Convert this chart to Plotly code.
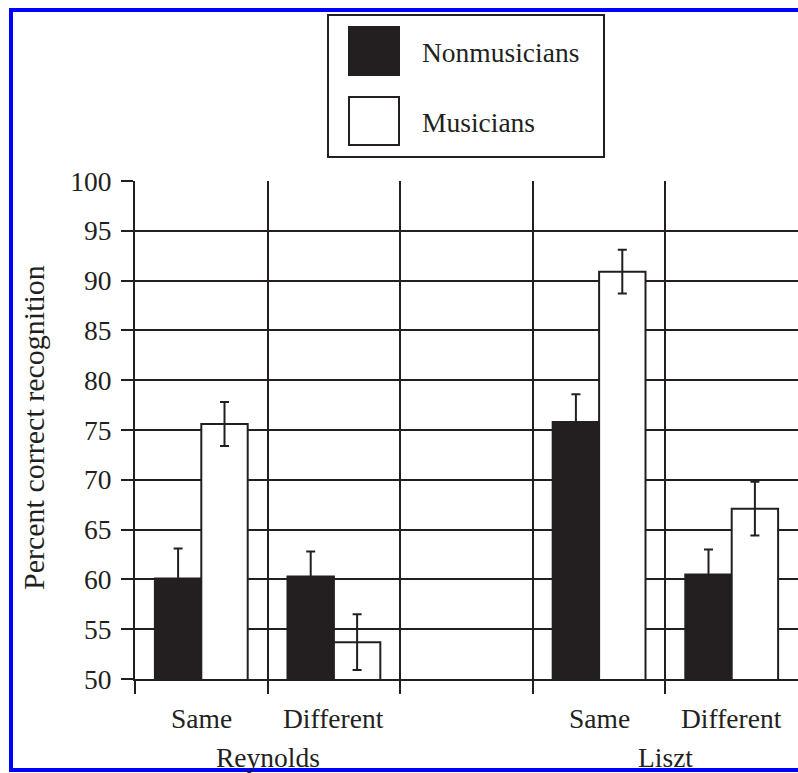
import plotly.graph_objects as go

# data
pieces = ["Reynolds", "Reynolds", "Liszt", "Liszt"]
conditions = ["Same", "Different", "Same", "Different"]
slots = [0, 1, 3, 4]  # slot 2 is the empty gap between the two pieces
nonmusicians = [60.1, 60.3, 75.8, 60.5]
nonmusicians_err = [3.0, 2.5, 2.8, 2.5]
musicians = [75.6, 53.7, 90.9, 67.1]
musicians_err = [2.2, 2.8, 2.2, 2.7]
series_names = ["Nonmusicians", "Musicians"]
y_ticks = [50, 55, 60, 65, 70, 75, 80, 85, 90, 95, 100]

INK = "#231f20"
FONT = "Liberation Serif"
FS = 27.5

W_FIG, H_FIG = 798, 773
L, R, T, B = 135, 0, 181, 94
PW, PH = W_FIG - L - R, H_FIG - T - B


def px(xp):
    return (xp - L) / PW


def py(yp):
    return (T + PH - yp) / PH


fig = go.Figure()
fig.add_trace(go.Bar(
    x=slots, y=nonmusicians, name=series_names[0],
    marker=dict(color=INK, line=dict(color=INK, width=2)),
    error_y=dict(type="data", array=nonmusicians_err, color=INK, thickness=2, width=4.5),
    showlegend=False,
))
fig.add_trace(go.Bar(
    x=slots, y=musicians, name=series_names[1],
    marker=dict(color="white", line=dict(color=INK, width=2)),
    error_y=dict(type="data", array=musicians_err, color=INK, thickness=2, width=4.5),
    showlegend=False,
))

txt = dict(family=FONT, size=FS, color=INK)

# condition labels under each slot, piece labels under each pair
for s, c in zip(slots, conditions):
    fig.add_annotation(x=s, y=py(718), xref="x", yref="paper", text=c, showarrow=False,
                       yanchor="middle", font=txt)
for p in dict.fromkeys(pieces):
    xs = [s for s, pp in zip(slots, pieces) if pp == p]
    fig.add_annotation(x=sum(xs) / len(xs), y=py(757), xref="x", yref="paper", text=p,
                       showarrow=False, yanchor="middle", font=txt)

# y axis title placed by hand (it sits further left than plotly's standoff allows)
fig.add_annotation(x=px(33), y=py(428), xref="paper", yref="paper", text="Percent correct recognition",
                   textangle=-90, showarrow=False, xanchor="center", yanchor="middle",
                   font=dict(family=FONT, size=30, color=INK))

# hand-drawn legend box like the original
shapes = [
    dict(type="rect", xref="paper", yref="paper", x0=px(328), x1=px(604), y0=py(157), y1=py(15),
         line=dict(color=INK, width=2), fillcolor="white"),
    dict(type="rect", xref="paper", yref="paper", x0=px(349), x1=px(399), y0=py(75), y1=py(27),
         line=dict(color=INK, width=2), fillcolor=INK),
    dict(type="rect", xref="paper", yref="paper", x0=px(349), x1=px(399), y0=py(145), y1=py(97),
         line=dict(color=INK, width=2), fillcolor="white"),
    # blue frame around the figure (open on the right, like the cropped original)
    dict(type="path", xref="paper", yref="paper",
         path=f"M {px(830)} {py(10)} L {px(11)} {py(10)} L {px(11)} {py(770)} L {px(830)} {py(770)}",
         line=dict(color="#0000ff", width=4), layer="above"),
]
for name, yc in zip(series_names, [52, 122]):
    fig.add_annotation(x=px(420), y=py(yc), xref="paper", yref="paper", text=name, showarrow=False,
                       xanchor="left", yanchor="middle", font=txt)

fig.update_layout(
    width=W_FIG, height=H_FIG,
    margin=dict(l=L, r=R, t=T, b=B),
    plot_bgcolor="white", paper_bgcolor="white",
    barmode="group", bargap=0.3, bargroupgap=0,
    font=txt,
    shapes=shapes,
    xaxis=dict(
        range=[-0.5, 4.5], tickvals=[-0.5, 0.5, 1.5, 2.5, 3.5], showticklabels=False,
        showgrid=True, gridcolor=INK, gridwidth=2,
        ticks="outside", ticklen=13, tickwidth=2, tickcolor=INK,
        showline=True, linecolor=INK, linewidth=2, zeroline=False,
    ),
    yaxis=dict(
        range=[50, 100], tickvals=y_ticks,
        showgrid=True, gridcolor=INK, gridwidth=2,
        ticks="outside", ticklen=12, tickwidth=2, tickcolor=INK,
        showline=True, linecolor=INK, linewidth=2, zeroline=False,
        tickfont=txt, ticklabelstandoff=4,
    ),
)

fig.write_html("out.html", config={"displayModeBar": False, "staticPlot": True},
               post_script="document.body.style.margin='0';document.body.style.overflow='hidden';")
